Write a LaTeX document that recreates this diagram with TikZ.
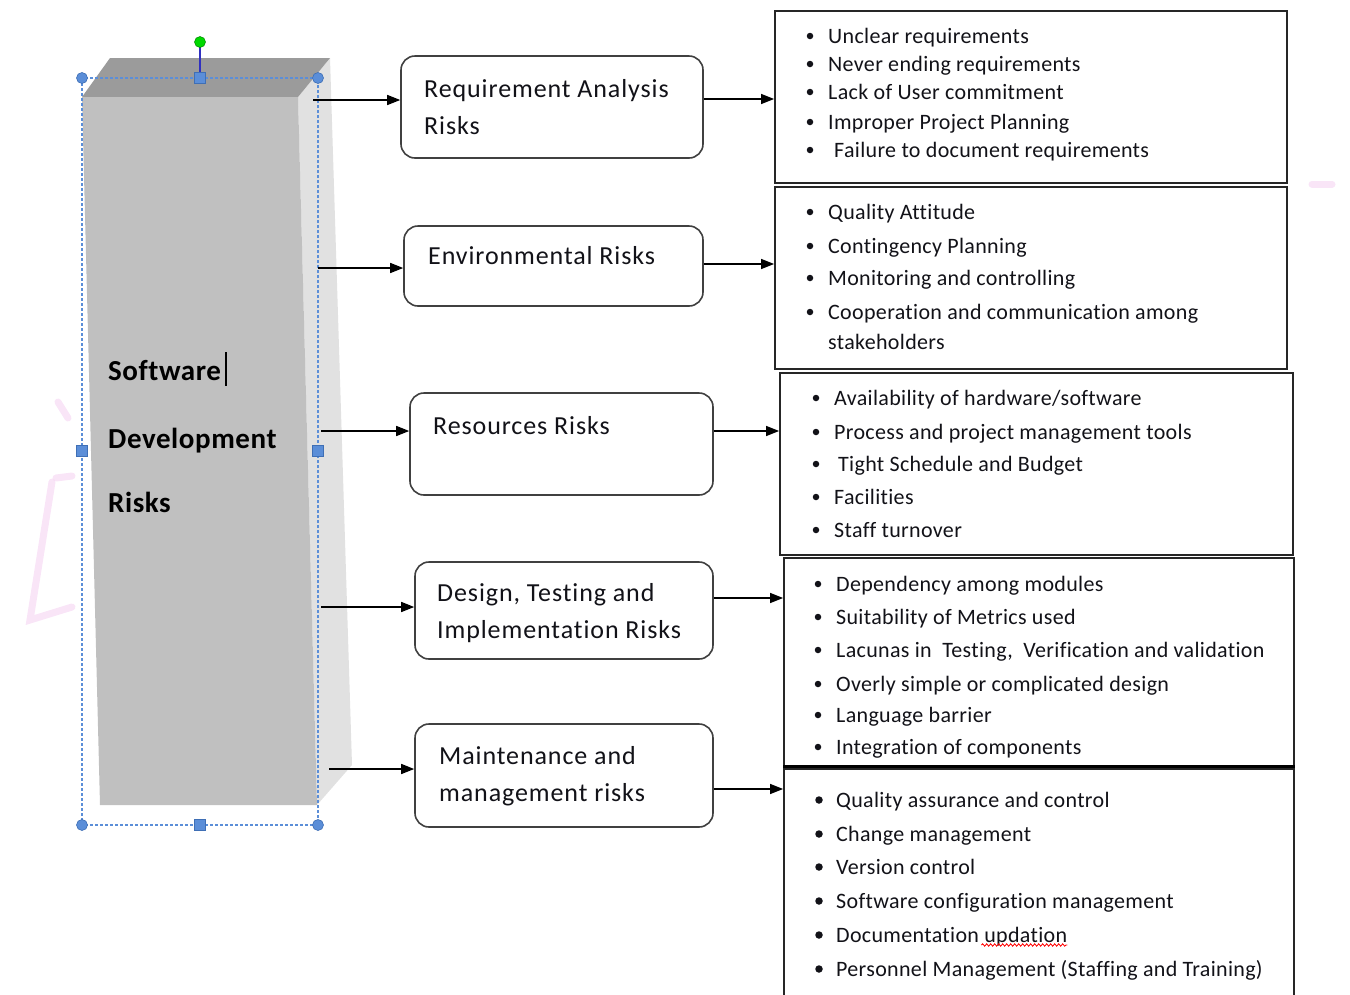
\documentclass[tikz,border=0pt]{standalone}
\usepackage{fontspec}
\setmainfont{Carlito}
\newfontfamily\boxfont[LetterSpace=3.5,Ligatures=NoCommon]{Carlito}
\newfontfamily\listfont[LetterSpace=1.5,Ligatures=NoCommon]{Carlito}
\newfontfamily\bigfont[LetterSpace=2,Ligatures=NoCommon]{Carlito}
\usetikzlibrary{arrows.meta,decorations.pathmorphing}
\definecolor{txt}{HTML}{121218}
\definecolor{topg}{HTML}{9B9B9B}
\definecolor{frontg}{HTML}{C0C0C0}
\definecolor{sideg}{HTML}{E1E1E1}
\definecolor{selb}{HTML}{5B8ED8}
\definecolor{hdl}{HTML}{3F6FB5}
\definecolor{rot}{HTML}{3030C0}
\definecolor{pinkish}{HTML}{F6DAF4}
\tikzset{
 riskbox/.style={draw=black!75, line width=1.6pt, rounded corners=14pt, fill=white, inner sep=0pt},
 listbox/.style={draw=black!85, line width=1.8pt, inner sep=0pt},
 title/.style={anchor=base west, inner sep=0pt, font=\boxfont\fontsize{26}{30}\selectfont, text=txt},
 item/.style={anchor=base west, inner sep=0pt, font=\listfont\fontsize{22}{26}\selectfont, text=txt},
 bigtitle/.style={anchor=base west, inner sep=0pt, font=\bigfont\bfseries\fontsize{29}{34}\selectfont, text=black},
 arr/.style={-{Triangle[length=13pt,width=10pt]}, line width=1.4pt, black},
 handlec/.style={circle, fill=selb, draw=hdl, line width=0.6pt, minimum size=11pt, inner sep=0pt},
 handles/.style={rectangle, fill=selb, draw=hdl, line width=0.6pt, minimum size=11pt, inner sep=0pt},
 dot/.style={circle, fill=txt, inner sep=0pt, minimum size=6.5pt},
}
\begin{document}
\begin{tikzpicture}[x=1pt,y=-1pt]
\useasboundingbox (0,0) rectangle (1350,994);
% faint pink artefacts
\begin{scope}[pinkish, line width=7pt, line cap=round, opacity=0.7]
\draw (56,478) -- (72,476);
\draw (52,482) -- (30,620) -- (72,607);
\draw (58,402) -- (68,418);
\draw (1312,184) -- (1332,184);
\end{scope}
% prism
\fill[sideg] (298,97) -- (330,58) -- (352,765) -- (317,805) -- cycle;
\fill[topg] (82,97) -- (110,58) -- (330,58) -- (298,97) -- cycle;
\fill[frontg] (82,97) -- (298,97) -- (317,805) -- (100,805) -- cycle;
\node[bigtitle] (sw) at (108,380) {Software};
\node[bigtitle] (dev) at (108,448) {Development};
\node[bigtitle] (rk) at (108,512) {Risks};
\draw[line width=2pt] (226,352) -- (226,386);
% selection frame and handles
\draw[selb, line width=1.2pt, dash pattern=on 3pt off 2pt] (82,78) rectangle (318,825);
\draw[rot, line width=1.2pt] (200,42) -- (200,78);
\node[circle, fill=green!85!black, draw=green!50!black, line width=0.5pt, minimum size=11pt, inner sep=0pt] (rh) at (200,42) {};
\node[handlec] (h1) at (82,78) {};
\node[handlec] (h2) at (318,78) {};
\node[handlec] (h3) at (82,825) {};
\node[handlec] (h4) at (318,825) {};
\node[handles] (h5) at (200,78) {};
\node[handles] (h6) at (82,451) {};
\node[handles] (h7) at (318,451) {};
\node[handles] (h8) at (200,825) {};
% middle boxes
\node[riskbox, minimum width=302pt, minimum height=102pt] (b1) at (552,107) {};
\node[riskbox, minimum width=299pt, minimum height=80pt] (b2) at (553.5,266) {};
\node[riskbox, minimum width=303pt, minimum height=102pt] (b3) at (561.5,444) {};
\node[riskbox, minimum width=298pt, minimum height=97pt] (b4) at (564,610.5) {};
\node[riskbox, minimum width=298pt, minimum height=103pt] (b5) at (564,775.5) {};
\node[title] (b1a) at (424,97) {Requirement Analysis};
\node[title] (b1b) at (424,134) {Risks};
\node[title] (b2a) at (428,264) {Environmental Risks};
\node[title] (b3a) at (433,434) {Resources Risks};
\node[title] (b4a) at (437,601) {Design, Testing and};
\node[title] (b4b) at (437,638) {Implementation Risks};
\node[title] (b5a) at (439,764) {Maintenance and};
\node[title] (b5b) at (439,801) {management risks};
% right boxes
\node[listbox, minimum width=512pt, minimum height=172pt] (r1) at (1031,97) {};
\node[listbox, minimum width=512pt, minimum height=182pt] (r2) at (1031,278) {};
\node[listbox, minimum width=513pt, minimum height=182pt] (r3) at (1036.5,464) {};
\node[listbox, minimum width=510pt, minimum height=208pt] (r4) at (1039,662) {};
\node[listbox, minimum width=510pt, minimum height=260pt] (r5) at (1039,899) {};
\draw[line width=3pt] (r4.south west) -- (r4.south east);
% arrows prism -> boxes
\coordinate (s1) at (313,100);
\coordinate (s2) at (318,268);
\coordinate (s3) at (321,431);
\coordinate (s4) at (321,607);
\coordinate (s5) at (329,769);
\draw[arr] (s1) -- (s1 -| b1.west);
\draw[arr] (s2) -- (s2 -| b2.west);
\draw[arr] (s3) -- (s3 -| b3.west);
\draw[arr] (s4) -- (s4 -| b4.west);
\draw[arr] (s5) -- (s5 -| b5.west);
% arrows boxes -> lists
\coordinate (y1) at (0,99);
\coordinate (y2) at (0,264);
\coordinate (y3) at (0,431);
\coordinate (y4) at (0,598);
\coordinate (y5) at (0,789);
\draw[arr] (b1.east |- y1) -- (r1.west |- y1);
\draw[arr] (b2.east |- y2) -- (r2.west |- y2);
\draw[arr] (b3.east |- y3) -- (r3.west |- y3);
\draw[arr] (b4.east |- y4) -- (r4.west |- y4);
\draw[arr] (b5.east |- y5) -- (r5.west |- y5);
% list 1
\foreach \y/\xt/\t [count=\i] in {36/828/Unclear requirements, 64/828/Never ending requirements, 92/828/Lack of User commitment, 122/828/Improper Project Planning, 150/834/Failure to document requirements}{
 \node[dot] (p1d\i) at (810,\y) {};
 \node[item] (p1t\i) at (\xt,\y+7) {\t};
}
% list 2
\foreach \y/\t [count=\i] in {212/Quality Attitude, 246/Contingency Planning, 278/Monitoring and controlling, 312/Cooperation and communication among}{
 \node[dot] (p2d\i) at (810,\y) {};
 \node[item] (p2t\i) at (828,\y+7) {\t};
}
\node[item] (p2t5) at (828,349) {stakeholders};
% list 3
\foreach \y/\xt/\t [count=\i] in {398/834/{Availability of hardware/software}, 432/834/Process and project management tools, 464/838/Tight Schedule and Budget, 497/834/Facilities, 530/834/Staff turnover}{
 \node[dot] (p3d\i) at (816,\y) {};
 \node[item] (p3t\i) at (\xt,\y+7) {\t};
}
% list 4
\foreach \y/\t [count=\i] in {584/Dependency among modules, 617/Suitability of Metrics used, 650/{Lacunas in\ \ Testing,\ \ Verification and validation}, 684/Overly simple or complicated design, 715/Language barrier, 747/Integration of components}{
 \node[dot] (p4d\i) at (818,\y) {};
 \node[item] (p4t\i) at (836,\y+7) {\t};
}
% list 5
\foreach \y/\t [count=\i] in {800/Quality assurance and control, 834/Change management, 867/Version control, 901/Software configuration management, 935/Documentation updation, 969/Personnel Management (Staffing and Training)}{
 \node[dot, minimum size=7.5pt] (p5d\i) at (819,\y) {};
 \node[item] (p5t\i) at (836,\y+7) {\t};
}
\draw[red, line width=0.8pt, decorate, decoration={snake, segment length=4pt, amplitude=1.2pt}] (p5t5.base east) ++(-86,3) -- ++(86,0);
\end{tikzpicture}
\end{document}
